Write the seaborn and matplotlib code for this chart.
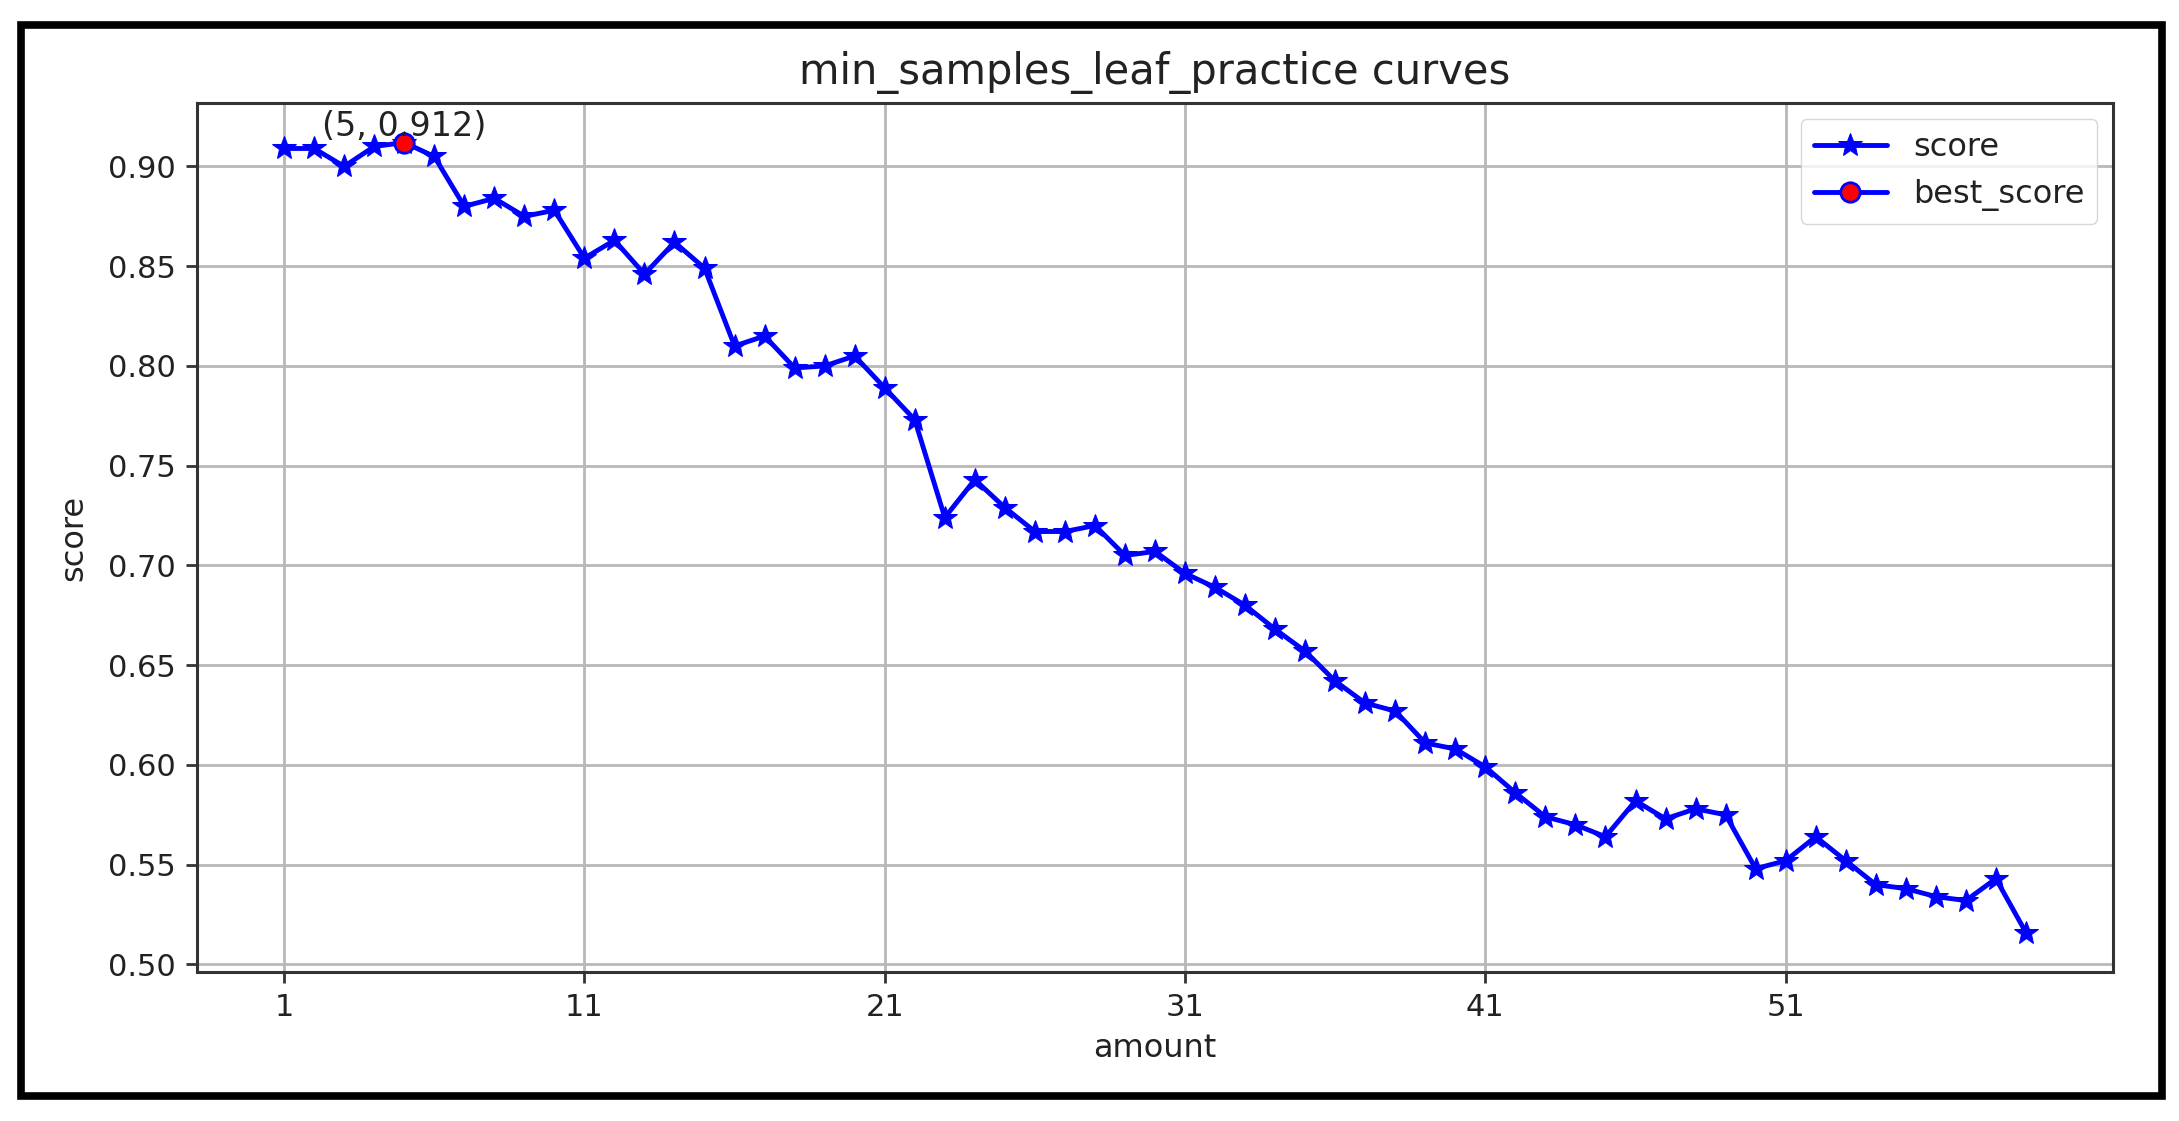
import matplotlib
matplotlib.use("Agg")
import matplotlib.pyplot as plt
import matplotlib.patches as patches
import seaborn as sns
import pandas as pd
import numpy as np

# values
amount = list(range(1, 60))
scores = [0.909, 0.909, 0.900, 0.910, 0.912, 0.905, 0.880, 0.884, 0.875, 0.878,
          0.854, 0.863, 0.846, 0.862, 0.849, 0.810, 0.815, 0.799, 0.800, 0.805,
          0.789, 0.773, 0.724, 0.743, 0.729, 0.717, 0.717, 0.720, 0.705, 0.707,
          0.696, 0.689, 0.680, 0.668, 0.657, 0.642, 0.631, 0.627, 0.611, 0.608,
          0.599, 0.586, 0.574, 0.570, 0.564, 0.582, 0.573, 0.578, 0.575, 0.548,
          0.552, 0.564, 0.552, 0.540, 0.538, 0.534, 0.532, 0.543, 0.516]
x_ticks = list(range(1, 60, 10))
y_ticks = [0.50, 0.55, 0.60, 0.65, 0.70, 0.75, 0.80, 0.85, 0.90]

df = pd.DataFrame({'amount': amount, 'score': scores})
best_idx = int(np.argmax(scores))
best_x = amount[best_idx]
best_y = scores[best_idx]

sns.set_theme(style='ticks')
plt.rcParams['font.family'] = ['DejaVu Sans']

W, H = 2179, 1121
fig = plt.figure(figsize=(W / 100, H / 100), dpi=100)
fig.patch.set_facecolor('white')
ax = fig.add_axes([197 / W, 1 - 972 / H, (2113 - 197) / W, (972 - 103) / H])

sns.lineplot(data=df, x='amount', y='score', ax=ax, color='blue', marker='*',
             markersize=18, markeredgecolor='blue', linewidth=3.5, label='score')
sns.lineplot(x=[best_x], y=[best_y], ax=ax, color='blue', marker='o',
             markersize=14, markerfacecolor='red', markeredgecolor='blue',
             markeredgewidth=2, linewidth=3.5, label='best_score')
ax.text(best_x, best_y, '(%d, %.3f)' % (best_x, best_y), ha='center', va='bottom',
        fontsize=24, color='#222222')

ax.set_xticks(x_ticks)
ax.set_yticks(y_ticks)
ax.set_yticklabels(['%.2f' % v for v in y_ticks])
ax.margins(x=0.05, y=0.05)
ax.grid(True, color='#b8b8b8', linewidth=2)
ax.set_axisbelow(True)
for s in ax.spines.values():
    s.set_color('#333333')
    s.set_linewidth(2.2)
ax.tick_params(axis='both', labelsize=22, length=8, width=2, color='#333333',
               labelcolor='#222222', pad=7)

ax.set_title('min_samples_leaf_practice curves', fontsize=30, pad=14, color='#222222')
ax.set_xlabel('amount', fontsize=23, labelpad=8, color='#222222')
ax.set_ylabel('score', fontsize=23, labelpad=14, color='#222222')

leg = ax.legend(loc='upper right', fontsize=23, frameon=True, fancybox=True,
                framealpha=0.8, edgecolor='#cccccc', borderaxespad=0.5,
                handlelength=2.3)
for t in leg.get_texts():
    t.set_color('#222222')

# black frame around the whole picture
fig.patches.append(patches.Rectangle((20.5 / W, 1 - 1095.5 / H), (2162 - 20.5) / W,
                                     (1095.5 - 25) / H, transform=fig.transFigure,
                                     fill=False, edgecolor='black', linewidth=5.5))

fig.savefig('out.png', dpi=100)
